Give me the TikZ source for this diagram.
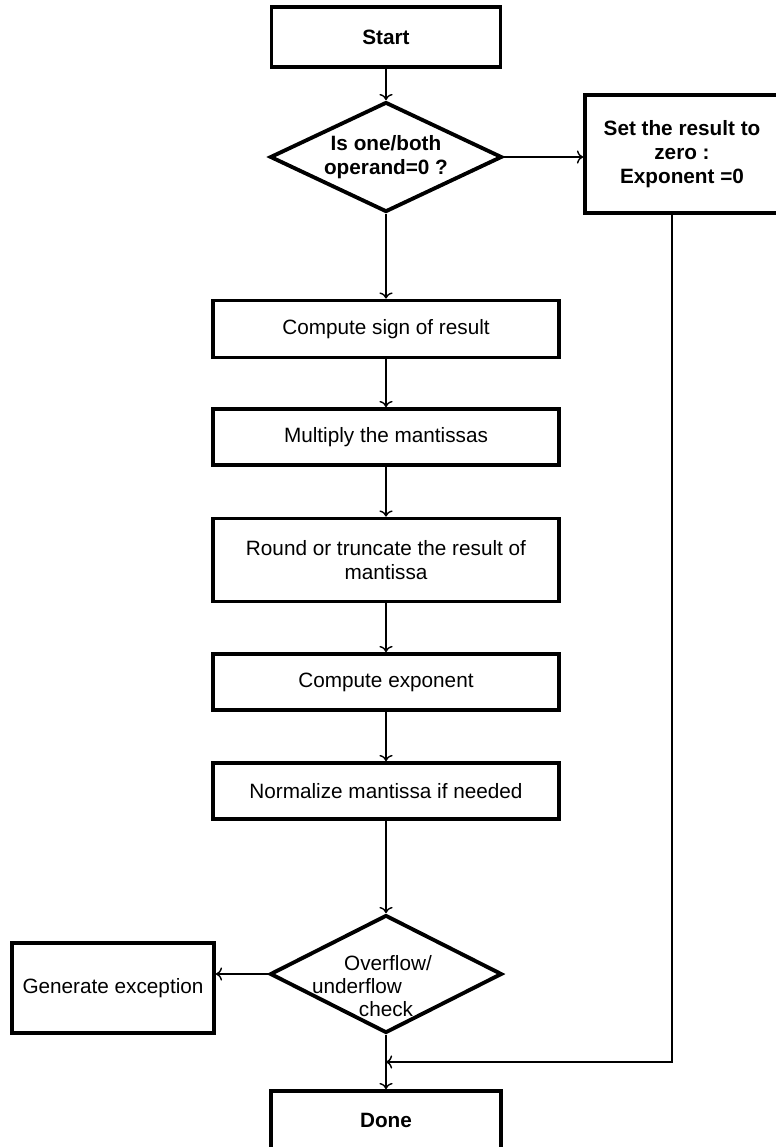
\documentclass[tikz,border=0pt]{standalone}
\usepackage{fontspec}
\setmainfont{Liberation Sans}
\usetikzlibrary{arrows, arrows.meta}
\usetikzlibrary{shapes.geometric, positioning, calc}

\tikzset{
  process/.style={rectangle, draw=black, line width=2.2pt, align=center, inner sep=0pt,
    font=\fontsize{11.8}{13.8}\selectfont},
  strong/.style={font=\fontsize{11.8}{13.8}\selectfont\bfseries},
  decision/.style={diamond, draw=black, line width=2.2pt, align=center, inner sep=0pt, aspect=2.1},
  flow/.style={->, >={To[length=3.5pt, width=7.5pt]}, line width=0.8pt}
}

\begin{document}
\begin{tikzpicture}[x=0.02cm, y=-0.02cm]
      \useasboundingbox (0,0) rectangle (775,1147);

      \node[process, strong, minimum width=4.58cm, minimum height=1.2cm] (start) at (386,37) {Start};
      \node[decision, strong, minimum width=4.64cm, minimum height=2.2cm] (dec1) at (386,157) {Is one/both\\operand=0 ?};
      \node[process, strong, minimum width=3.88cm, minimum height=2.36cm] (rbox) at (682,154) {Set the result to\\zero :\\Exponent =0};

      \node[process, minimum width=6.92cm, minimum height=1.14cm] (sign) at (386,329) {Compute sign of result};
      \node[process, minimum width=6.92cm, minimum height=1.12cm] (mult) at (386,437) {Multiply the mantissas};
      \node[process, minimum width=6.92cm, minimum height=1.66cm] (round) at (386,560) {Round or truncate the result of\\mantissa};
      \node[process, minimum width=6.92cm, minimum height=1.12cm] (expo) at (386,682) {Compute exponent};
      \node[process, minimum width=6.92cm, minimum height=1.12cm] (norm) at (386,791) {Normalize mantissa if needed};

      \node[decision, minimum width=4.64cm, minimum height=2.36cm] (dec2) at (386,974) {};
      \node[align=center, inner sep=0pt, font=\fontsize{11.8}{13.2}\selectfont] (dec2txt) at ([yshift=-0.24cm]dec2.center)
        {\rule{0.08cm}{0pt}Overflow/\\underflow\rule{1.16cm}{0pt}\\check};
      \node[process, minimum width=4.04cm, minimum height=1.8cm] (exc) at (113,988) {Generate exception};
      \node[process, strong, minimum width=4.6cm, minimum height=1.16cm] (done) at (386,1120) {Done};

      \coordinate (join) at (386,1062);

      \draw[flow] (start) -- (dec1);
      \draw[flow] (dec1.east) -- (dec1.east -| rbox.west);
      \draw[flow] (dec1) -- (sign);
      \draw[flow] (sign) -- (mult);
      \draw[flow] (mult) -- (round);
      \draw[flow] (round) -- (expo);
      \draw[flow] (expo) -- (norm);
      \draw[flow] (norm) -- (dec2);
      \draw[flow] (dec2.west) -- (dec2.west -| exc.east);
      \draw[flow] (dec2) -- (done);
      \draw[flow] ([xshift=-0.2cm]rbox.south) |- (join);

    \end{tikzpicture}
\end{document}
